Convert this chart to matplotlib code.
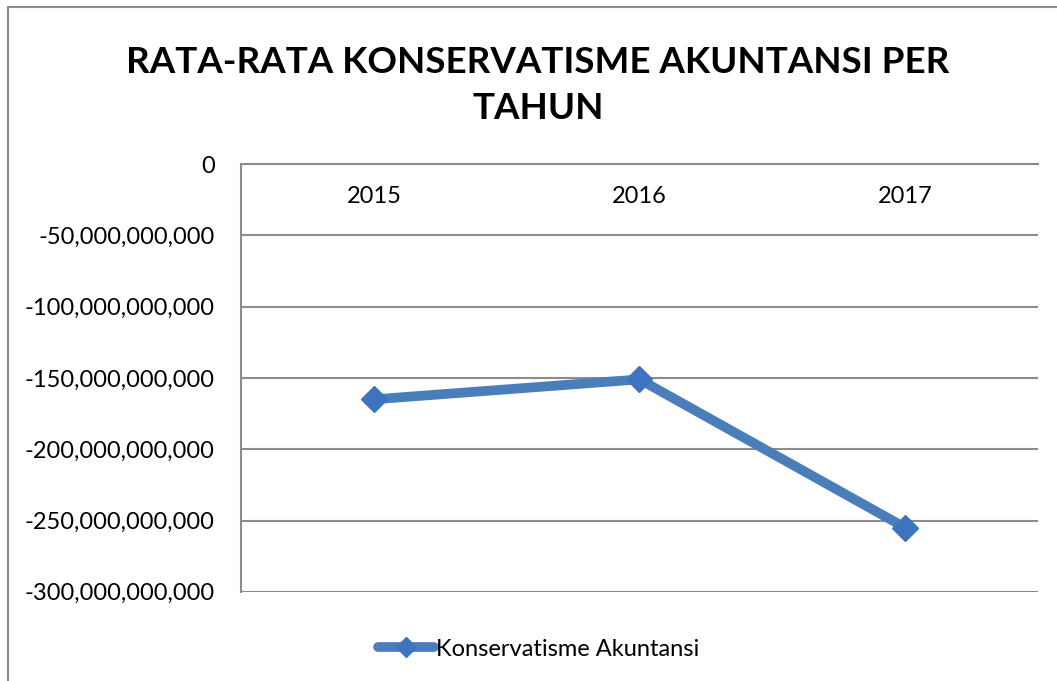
import matplotlib.pyplot as plt
from matplotlib.patches import Rectangle
from matplotlib.ticker import FuncFormatter

years = ["2015", "2016", "2017"]
konservatisme = [-165e9, -151e9, -255e9]
y_ticks = [0, -50e9, -100e9, -150e9, -200e9, -250e9, -300e9]

plt.rcParams['font.family'] = ['Lato', 'DejaVu Sans']

fig = plt.figure(figsize=(10.57, 6.81), dpi=100)
ax = fig.add_axes([0.228, 0.131, 0.754, 0.628])

# outer chart border
fig.patches.append(Rectangle((0.008, -0.01), 1.2, 1.0, transform=fig.transFigure,
                             fill=False, edgecolor='#8c8c8c', linewidth=1.5))

x = range(len(years))
ax.plot(x, konservatisme, color='#4a7ebb', linewidth=7, marker='D', markersize=13,
        markerfacecolor='#3e73c0', markeredgecolor='#3e73c0', solid_capstyle='round',
        label="Konservatisme Akuntansi", zorder=3)

ax.set_xlim(-0.5, 2.5)
ax.set_ylim(-300e9, 0)
ax.set_yticks(y_ticks)
ax.yaxis.set_major_formatter(FuncFormatter(lambda v, p: f"{int(v):,}"))
ax.set_xticks(list(x))
ax.set_xticklabels(years)
ax.grid(axis='y', color='#8c8c8c', linewidth=1.5)
ax.set_axisbelow(True)

ax.spines['bottom'].set_position(('data', 0))
ax.spines['bottom'].set_color('#8c8c8c')
ax.spines['bottom'].set_linewidth(1.5)
ax.spines['left'].set_color('#8c8c8c')
ax.spines['left'].set_linewidth(1.5)
ax.spines['top'].set_visible(False)
ax.spines['right'].set_visible(False)
ax.tick_params(axis='y', length=0, pad=19, labelsize=17)
ax.tick_params(axis='x', length=0, pad=16, labelsize=17)

fig.text(0.509, 1 - 73 / 681, "RATA-RATA KONSERVATISME AKUNTANSI PER", ha='center', va='baseline',
         fontsize=26.5, fontweight='bold')
fig.text(0.509, 1 - 119 / 681, "TAHUN", ha='center', va='baseline',
         fontsize=26.5, fontweight='bold')

ax.legend(loc='center', bbox_to_anchor=(0.373, -0.134), frameon=False, fontsize=17,
          handlelength=2.4, handletextpad=0.05, markerscale=0.8)

fig.savefig("out.png", dpi=100)
